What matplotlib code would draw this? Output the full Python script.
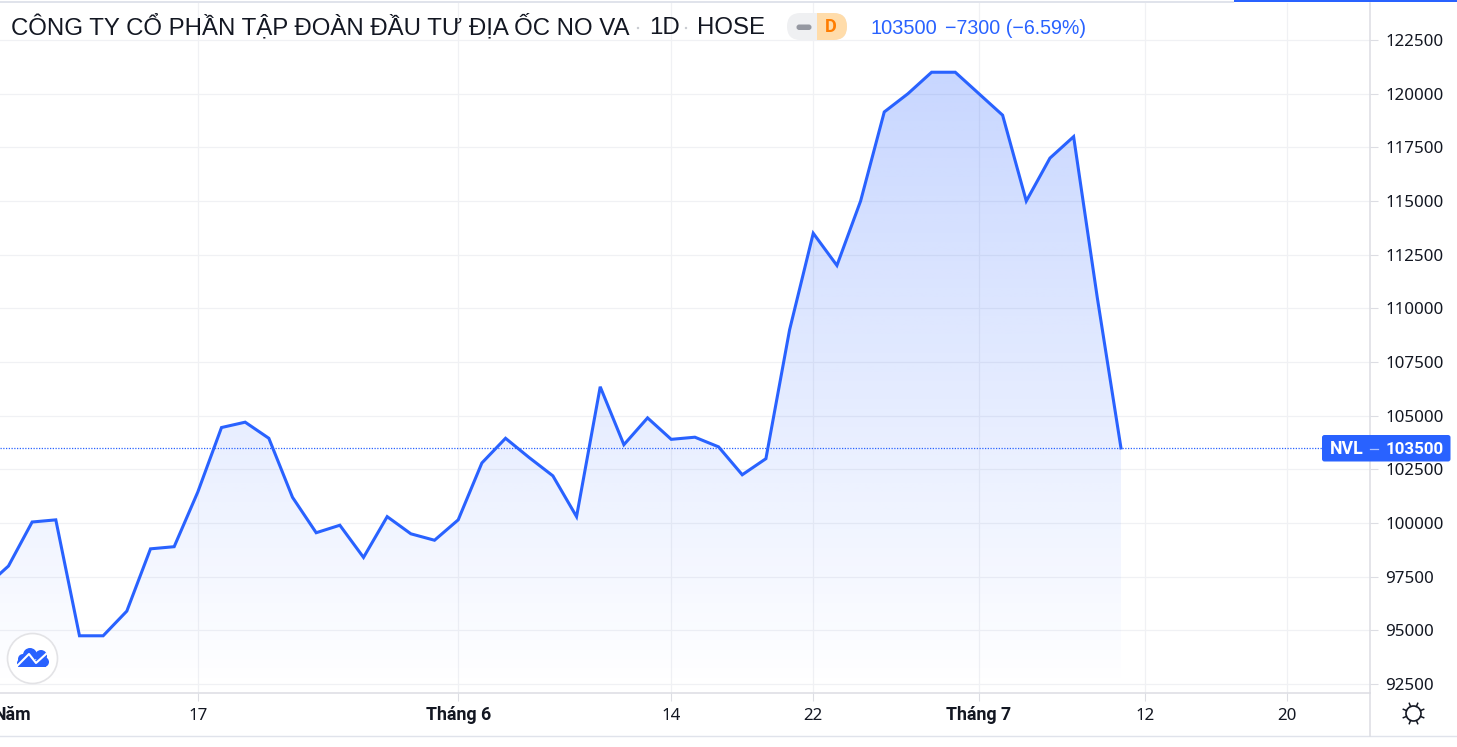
import matplotlib
matplotlib.use('Agg')
import matplotlib.pyplot as plt
import numpy as np
from matplotlib.patches import Circle, FancyBboxPatch, Polygon, Rectangle

W, H = 1457, 747
BLUE = '#2962ff'
GRID = '#f0f1f4'
AXIS = '#dcdde3'
TEXT = '#131722'
STEP = 23.67   # px per session
X0 = -15.2     # px of first session

# daily close, one value per session
prices = [97000, 98000, 100050, 100150, 94750, 94750, 95900, 98800, 98900, 101450,
          104450, 104700, 103950, 101200, 99550, 99900, 98400, 100300, 99500, 99200,
          100150, 102800, 103950, 103050, 102200, 100300, 106350, 103650, 104900, 103900,
          104000, 103550, 102250, 103000, 109000, 113500, 112000, 115000, 119150, 120000,
          121000, 121000, 120000, 119000, 115000, 117000, 118000, 110500, 103500]
y_ticks = [92500, 95000, 97500, 100000, 102500, 105000, 107500, 110000,
           112500, 115000, 117500, 120000, 122500]
x_ticks = [9, 20, 29, 35, 42, 49, 55]
x_labels = ['17', 'Tháng 6', '14', '22', 'Tháng 7', '12', '20']
first_label = 'Năm'
last_price = 103500

fig = plt.figure(figsize=(W / 100, H / 100), dpi=100, facecolor='white')

# price pane, pixel box x 0-1370, y 3-693
ax = fig.add_axes([0, 1 - 693 / H, 1370 / W, 690 / H])
xlim = (-X0 / STEP, (1370 - X0) / STEP)
ylim = (92085, 124225)
for s in ['top', 'left']:
    ax.spines[s].set_visible(False)
for s in ['bottom', 'right']:
    ax.spines[s].set_color(AXIS)
    ax.spines[s].set_linewidth(1.1)

x = np.arange(len(prices))
ax.yaxis.tick_right()
ax.set_yticks(y_ticks)
ax.set_yticklabels([str(v) for v in y_ticks], fontsize=12.2, color=TEXT, family='Noto Sans')
ax.set_xticks(x_ticks)
ax.set_xticklabels(x_labels, fontsize=12.2, color=TEXT, family='Noto Sans', va='baseline')
for lab, txt in zip(ax.get_xticklabels(), x_labels):
    if txt.startswith('Tháng'):
        lab.set_family('Roboto')
        lab.set_fontweight('bold')
        lab.set_fontsize(12.8)
ax.tick_params(axis='y', length=5.8, width=0.8, color=AXIS, pad=5)
ax.tick_params(axis='x', length=5.8, width=0.8, color=AXIS, pad=13.7)
ax.grid(True, color=GRID, linewidth=0.9)
ax.set_axisbelow(True)

# gradient under the line
ymax = max(prices)
grad = np.zeros((256, 2, 4))
grad[..., 0] = 41 / 255
grad[..., 1] = 98 / 255
grad[..., 2] = 1.0
grad[..., 3] = np.linspace(0.26, 0.0, 256)[:, None]
im = ax.imshow(grad, extent=[x[0], x[-1], 92300, ymax], origin='upper', aspect='auto', zorder=2)
clip = Polygon(np.vstack([[x[0], 92300], np.column_stack([x, prices]), [x[-1], 92300]]),
               closed=True, transform=ax.transData, facecolor='none', edgecolor='none')
ax.add_patch(clip)
im.set_clip_path(clip)
ax.set_xlim(xlim)
ax.set_ylim(ylim)

ax.plot(x, prices, color=BLUE, linewidth=2.2, solid_joinstyle='miter', zorder=3)
ax.axhline(last_price, color=BLUE, linewidth=0.9, linestyle=(0, (1, 1.2)), zorder=3)

# overlay in pixel coordinates for header, badges and icons
ov = fig.add_axes([0, 0, 1, 1], facecolor='none')
ov.set_xlim(0, W)
ov.set_ylim(H, 0)
ov.axis('off')

ov.add_patch(Rectangle((0, 1), 1234, 2.4, color='#e0e3eb', lw=0))
ov.add_patch(Rectangle((1234, 0), 223, 2, color=BLUE, lw=0))
ov.plot([0, W], [735.5, 735.5], color='#e0e3eb', lw=1)
ov.plot([1370, 1370], [693, 735.5], color=AXIS, lw=1.1)

ov.text(-6, 720, first_label, fontsize=12.8, family='Roboto', fontweight='bold', color=TEXT,
        va='baseline', ha='left')

ov.text(11, 34.5, 'CÔNG TY CỔ PHẦN TẬP ĐOÀN ĐẦU TƯ ĐỊA ỐC NO VA', fontsize=17.27,
        family='Liberation Sans', color=TEXT, va='baseline', ha='left')
ov.text(649, 34.5, '1D', fontsize=17.27, family='Liberation Sans', color=TEXT, va='baseline', ha='left')
ov.text(697, 34.5, 'HOSE', fontsize=17.27, family='Liberation Sans', color=TEXT, va='baseline', ha='left')
for px in [638, 686]:
    ov.add_patch(Circle((px, 28), 1.2, color='#c8cad0', lw=0))

# status pill
pill = FancyBboxPatch((787, 13), 60, 27, boxstyle='round,pad=0,rounding_size=13.5',
                      facecolor='#eff0f2', edgecolor='none')
ov.add_patch(pill)
orange = Rectangle((817, 13), 30, 27, facecolor='#ffdcaa', edgecolor='none')
ov.add_patch(orange)
orange.set_clip_path(pill)
ov.add_patch(FancyBboxPatch((796.5, 24.5), 15, 5.5, boxstyle='round,pad=0,rounding_size=2.7',
                            facecolor='#9598a1', edgecolor='none'))
ov.text(831, 27, 'D', fontsize=13, family='Roboto', fontweight='bold', color='#ff7d00',
        ha='center', va='center')

ov.text(871, 34.5, '103500', fontsize=14.4, family='Liberation Sans', color=BLUE, va='baseline', ha='left')
ov.text(945, 34.5, '−7300 (−6.59%)', fontsize=14.1, family='Liberation Sans', color=BLUE, va='baseline', ha='left')

# last price tag
ov.add_patch(FancyBboxPatch((1322, 435), 128.5, 26.5, boxstyle='round,pad=0,rounding_size=2.5',
                            facecolor=BLUE, edgecolor='none'))
ov.text(1330, 454, 'NVL', fontsize=12.8, family='Roboto', fontweight='bold', color='white',
        va='baseline', ha='left')
ov.plot([1370, 1378], [448.5, 448.5], color='#a9c0ff', lw=0.9)
ov.text(1386, 454, str(last_price), fontsize=12.2, family='Roboto', fontweight='bold',
        color='white', va='baseline', ha='left')

# logo button
ov.add_patch(Circle((32.5, 658.5), 25, facecolor='white', edgecolor='#e3e3e6', lw=1.2))
for cx, cy, r in [(23, 659, 5), (30, 655, 7), (41, 656, 6), (44, 662, 5), (21, 663, 4)]:
    ov.add_patch(Circle((cx, cy), r, color=BLUE, lw=0))
ov.add_patch(Rectangle((18, 660), 28, 7, color=BLUE, lw=0))
ov.plot([17, 29, 36, 46], [666, 654, 663, 654], color='white', lw=1.5)

# settings sun icon
ov.add_patch(Circle((1413.5, 713.5), 7.5, facecolor='none', edgecolor=TEXT, lw=1.2))
for a in np.arange(8) * np.pi / 4 + np.pi / 8:
    ov.plot([1413.5 + 8 * np.cos(a), 1413.5 + 11 * np.cos(a)],
            [713.5 + 8 * np.sin(a), 713.5 + 11 * np.sin(a)], color=TEXT, lw=1.1)

fig.savefig('out.png', dpi=100)
